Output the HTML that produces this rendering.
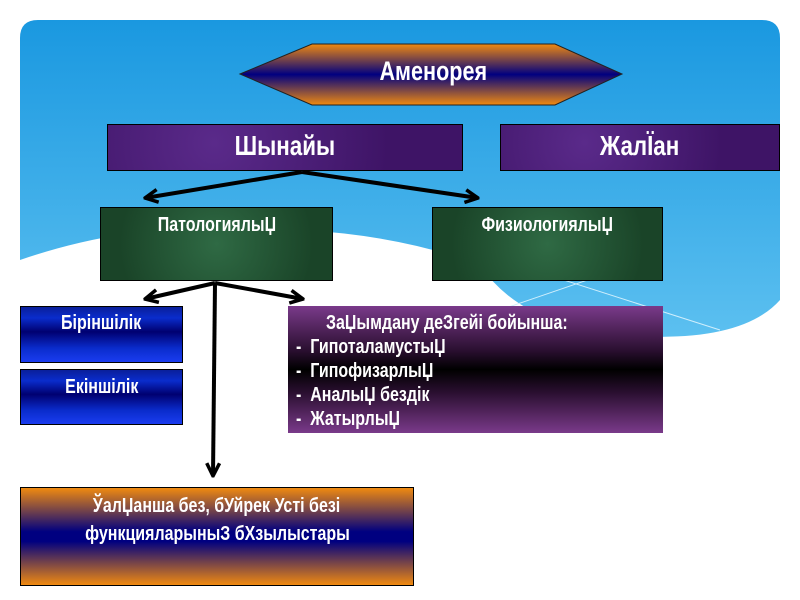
<!DOCTYPE html>
<html><head><meta charset="utf-8"><style>
body{margin:0;width:800px;height:600px;background:#fff;overflow:hidden;position:relative;font-family:"Liberation Sans",sans-serif;font-weight:bold;color:#fff}
.b{position:absolute;box-sizing:border-box;border:1px solid #000;text-align:center}
.c{display:inline-block;transform:scaleX(.8);transform-origin:center;white-space:nowrap}
.l{display:inline-block;transform:scaleX(.8);transform-origin:left;white-space:nowrap}
.pur{background:radial-gradient(circle at 30% 40%,#5a2a8a,#3e1466 70%);}
.grn{background:radial-gradient(circle at 50% 50%,#2f6a44,#1a4428 80%);}
.blu{background:linear-gradient(#0a1f9a 0%,#0a2ccc 20%,#000070 45%,#0a2ccc 75%,#1a3cf0 100%);}
</style></head><body>
<svg width="800" height="600" style="position:absolute;left:0;top:0">
<defs>
<linearGradient id="sky" x1="0" y1="0" x2="0" y2="1"><stop offset="0" stop-color="#1a98e0"/><stop offset="1" stop-color="#5cc0f0"/></linearGradient>
<linearGradient id="hex" x1="0" y1="0" x2="0" y2="1"><stop offset="0" stop-color="#f08a10"/><stop offset="0.5" stop-color="#000080"/><stop offset="1" stop-color="#f08a10"/></linearGradient>
<marker id="ah" viewBox="0 0 10 10" refX="9" refY="5" markerWidth="4" markerHeight="4" orient="auto"><path d="M1,1 L9,5 L1,9" fill="none" stroke="#000" stroke-width="2.2"/></marker>
</defs>
<path d="M20,38 Q20,20 38,20 L762,20 Q780,20 780,38 L780,300 Q740,345 620,335 Q520,325 480,265 Q400,235 300,230 Q150,215 20,260 Z" fill="url(#sky)"/>
<path d="M470,250 L720,330 M500,310 L640,262" stroke="#cfeefc" stroke-width="1"/>
<polygon points="240,74 312,44 555,44 622,74 555,105 312,105" fill="url(#hex)" stroke="#222"/>
<g stroke="#000" stroke-width="4" fill="none" marker-end="url(#ah)">
<line x1="302" y1="172" x2="145" y2="198"/>
<line x1="302" y1="172" x2="478" y2="198"/>
<line x1="215" y1="283" x2="145" y2="299"/>
<line x1="215" y1="283" x2="303" y2="299"/>
<line x1="215" y1="283" x2="213" y2="476"/>
</g>
</svg>
<div style="position:absolute;left:312px;top:56px;width:243px;text-align:center;font-size:27px"><span class="c">Аменорея</span></div>
<div class="b pur" style="left:107px;top:124px;width:356px;height:47px;font-size:28px;line-height:42px"><span class="c">Шынайы</span></div>
<div class="b pur" style="left:500px;top:124px;width:280px;height:47px;font-size:28px;line-height:42px"><span class="c">ЖалЇан</span></div>
<div class="b grn" style="left:100px;top:207px;width:233px;height:74px;font-size:20px;padding-top:6px"><span class="c">ПатологиялыЏ</span></div>
<div class="b grn" style="left:432px;top:207px;width:231px;height:74px;font-size:20px;padding-top:6px"><span class="c">ФизиологиялыЏ</span></div>
<div class="b blu" style="left:20px;top:306px;width:163px;height:57px;font-size:20px;padding-top:5px"><span class="c">Біріншілік</span></div>
<div class="b blu" style="left:20px;top:369px;width:163px;height:56px;font-size:20px;padding-top:6px"><span class="c">Екіншілік</span></div>
<div class="b" style="left:288px;top:306px;width:375px;height:127px;border:none;background:linear-gradient(#7a3a8a 0%,#2a0f30 35%,#000 50%,#2a0f30 68%,#7a3a8a 100%);text-align:left;font-size:20px;line-height:24px;padding:5px 0 0 8px">
<div style="padding-left:30px"><span class="l">ЗаЏымдану деЗгейі бойынша:</span></div>
<div><span class="l">‐ &nbsp;ГипоталамустыЏ</span></div>
<div><span class="l">‐ &nbsp;ГипофизарлыЏ</span></div>
<div><span class="l">‐ &nbsp;АналыЏ бездік</span></div>
<div><span class="l">‐ &nbsp;ЖатырлыЏ</span></div>
</div>
<div class="b" style="left:20px;top:487px;width:394px;height:99px;background:linear-gradient(#f08a10 0%,#000080 45%,#000080 55%,#f08a10 100%);font-size:20px;line-height:28px;padding-top:4px"><span class="c">ЎалЏанша без, бУйрек Усті безі</span><br><span class="c">функцияларыныЗ бХзылыстары</span></div>
</body></html>
